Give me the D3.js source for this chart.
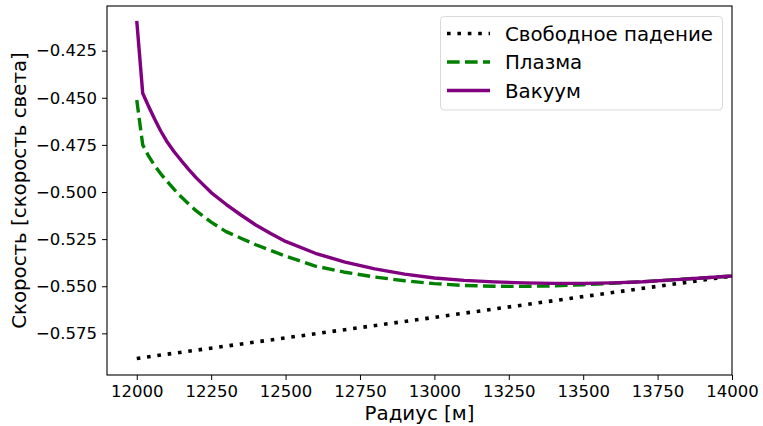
<!DOCTYPE html>
<html>
<head>
<meta charset="utf-8">
<script src="https://cdn.jsdelivr.net/npm/d3@7"></script>
<style>
  html, body { margin: 0; padding: 0; background: #fff; }
  svg { display: block; font-family: "DejaVu Sans", sans-serif; }
</style>
</head>
<body>
<svg id="chart" width="763" height="426"></svg>
<script>
// Radius grid (m) for the two model curves
const radius = [12000, 12020, 12040, 12060, 12080, 12100, 12125, 12150, 12175, 12200,
                12250, 12300, 12350, 12400, 12450, 12500, 12600, 12700, 12800, 12900,
                13000, 13100, 13200, 13300, 13400, 13500, 13600, 13700, 13800, 13900, 14000];

// Velocity in units of c
const vacuum = [-0.4092, -0.4476, -0.4546, -0.4613, -0.4675, -0.4729, -0.4785, -0.4834, -0.4881, -0.4925,
                -0.5003, -0.5065, -0.5122, -0.5175, -0.5220, -0.5262, -0.5325, -0.5372, -0.5408, -0.5436,
                -0.5456, -0.5469, -0.5477, -0.5482, -0.5485, -0.5485, -0.5482, -0.5476, -0.5466, -0.5456, -0.5446];

const plasma = [-0.4512, -0.4750, -0.4810, -0.4860, -0.4902, -0.4940, -0.4985, -0.5027, -0.5065, -0.5100,
                -0.5160, -0.5210, -0.5245, -0.5280, -0.5310, -0.5340, -0.5393, -0.5426, -0.5451, -0.5471,
                -0.5486, -0.5496, -0.5500, -0.5501, -0.5498, -0.5492, -0.5484, -0.5476, -0.5466, -0.5456, -0.5446];

// Free fall: straight line in radius
const freeFallRadius = [12000, 12500, 13000, 13500, 14000];
const freeFall = [-0.5883, -0.5774, -0.5665, -0.5555, -0.5446];

const xTicks = [12000, 12250, 12500, 12750, 13000, 13250, 13500, 13750, 14000];
const yTicks = [-0.425, -0.450, -0.475, -0.500, -0.525, -0.550, -0.575];

const seriesNames = ["Свободное падение", "Плазма", "Вакуум"];
const xLabel = "Радиус [м]";
const yLabel = "Скорость [скорость света]";

// Layout
const plot = { left: 107, right: 732, top: 6, bottom: 375 };

const svg = d3.select("#chart");

const x = d3.scaleLinear().domain([11900, 14000]).range([plot.left, plot.right]);
const y = d3.scaleLinear().domain([-0.5971, -0.4013]).range([plot.bottom, plot.top]);

const fmtY = v => d3.format(".3f")(v).replace("-", "\u2212");

// Series
const styles = [
  { color: "#000000", dash: "3.6 6.8", width: 3.6 },
  { color: "#008000", dash: "12.6 5.4", width: 3.4 },
  { color: "#800080", dash: null, width: 3.4 }
];

const line = d3.line().x(d => x(d[0])).y(d => y(d[1]));

const seriesData = [
  d3.zip(freeFallRadius, freeFall),
  d3.zip(radius, plasma),
  d3.zip(radius, vacuum)
];

const linesG = svg.append("g");
seriesData.forEach((data, i) => {
  linesG.append("path")
    .datum(data)
    .attr("d", line)
    .attr("fill", "none")
    .attr("stroke", styles[i].color)
    .attr("stroke-width", styles[i].width)
    .attr("stroke-dasharray", styles[i].dash)
    .attr("stroke-linejoin", "round")
    .attr("stroke-linecap", "butt");
});

// Axes
const xAxis = d3.axisBottom(x).tickValues(xTicks).tickFormat(d3.format("d"))
  .tickSize(5).tickPadding(5);
const yAxis = d3.axisLeft(y).tickValues(yTicks).tickFormat(fmtY)
  .tickSize(5).tickPadding(5);

const gx = svg.append("g").attr("transform", `translate(0,${plot.bottom})`).call(xAxis);
const gy = svg.append("g").attr("transform", `translate(${plot.left},0)`).call(yAxis);

[gx, gy].forEach(g => {
  g.select(".domain").remove();
  g.selectAll(".tick line").attr("stroke", "#000").attr("stroke-width", 1);
  g.selectAll(".tick text")
    .attr("fill", "#000")
    .style("font-family", "'DejaVu Sans', sans-serif")
    .style("font-size", "16.5px");
});

// Frame
svg.append("rect")
  .attr("x", plot.left).attr("y", plot.top)
  .attr("width", plot.right - plot.left).attr("height", plot.bottom - plot.top)
  .attr("fill", "none").attr("stroke", "#000").attr("stroke-width", 1.1);

// Axis labels
svg.append("text")
  .attr("x", (plot.left + plot.right) / 2).attr("y", 420)
  .attr("text-anchor", "middle")
  .style("font-size", "19.8px")
  .text(xLabel);

svg.append("text")
  .attr("transform", `translate(26,${(plot.top + plot.bottom) / 2}) rotate(-90)`)
  .attr("text-anchor", "middle")
  .style("font-size", "19.8px")
  .text(yLabel);

// Legend
const legend = svg.append("g");
legend.append("rect")
  .attr("x", 440.5).attr("y", 16.5).attr("width", 282).attr("height", 93.5)
  .attr("rx", 4).attr("ry", 4)
  .attr("fill", "#fff").attr("fill-opacity", 0.8)
  .attr("stroke", "#d9d9d9").attr("stroke-width", 1);

const rowY = [33.5, 62, 90.5];
seriesNames.forEach((name, i) => {
  legend.append("line")
    .attr("x1", 447).attr("x2", 490)
    .attr("y1", rowY[i]).attr("y2", rowY[i])
    .attr("stroke", styles[i].color)
    .attr("stroke-width", styles[i].width)
    .attr("stroke-dasharray", styles[i].dash);
  legend.append("text")
    .attr("x", 505).attr("y", rowY[i])
    .attr("dy", "0.36em")
    .style("font-size", "19.8px")
    .text(name);
});
</script>
</body>
</html>
